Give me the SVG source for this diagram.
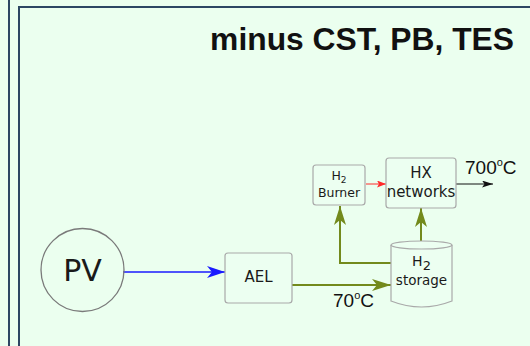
<svg xmlns="http://www.w3.org/2000/svg" width="530" height="346" viewBox="0 0 530 346">
<style>
.frame{fill:none;stroke:#2d4763;stroke-width:2}
.box{fill:#ecfff1;stroke:#a9a9a9;stroke-width:1.2}
.lbl{font-family:"DejaVu Sans",sans-serif;fill:#1a1a1a;text-anchor:middle}
.tmp{font-family:"Liberation Sans",Arial,sans-serif;fill:#111}
.olive{fill:none;stroke:#738a1c;stroke-width:2}
</style>
<defs>
<marker id="mOlive" markerUnits="userSpaceOnUse" markerWidth="20" markerHeight="13" refX="19" refY="6" orient="auto"><path d="M0,0 L19,6 L0,12 L5,6 Z" fill="#738a1c"/></marker>
<marker id="mBlue" markerUnits="userSpaceOnUse" markerWidth="19" markerHeight="13" refX="18" refY="6" orient="auto"><path d="M0,0 L18,6 L0,12 L5,6 Z" fill="#1a1aff"/></marker>
<marker id="mRed" markerUnits="userSpaceOnUse" markerWidth="10" markerHeight="8" refX="9" refY="3.5" orient="auto"><path d="M0,0 L9,3.5 L0,7 L2,3.5 Z" fill="#ff2a2a"/></marker>
<marker id="mBlack" markerUnits="userSpaceOnUse" markerWidth="12" markerHeight="8" refX="11" refY="3.5" orient="auto"><path d="M0,0 L11,3.5 L0,7 L2.5,3.5 Z" fill="#111"/></marker>
</defs>
<rect x="0" y="0" width="530" height="346" fill="#ebffef"/>
<line class="frame" x1="9" y1="0" x2="9" y2="346"/>
<path class="frame" d="M19,346 L19,7 L531,7"/>
<text class="tmp" x="514" y="50" font-size="31.8" font-weight="bold" text-anchor="end" fill="#000">minus CST, PB, TES</text>
<g id="connectors">
<path d="M123,272 L225,272" stroke="#1a1aff" stroke-width="1.6" fill="none" marker-end="url(#mBlue)"/>
<path class="olive" d="M292,285 L391,285" marker-end="url(#mOlive)"/>
<path class="olive" d="M391,263 L340,263 L340,206" marker-end="url(#mOlive)"/>
<path class="olive" d="M421,241 L421,208" marker-end="url(#mOlive)"/>
<path d="M366,184 L386,184" stroke="#ff2a2a" stroke-width="1" fill="none" marker-end="url(#mRed)"/>
<path d="M456,184 L493,184" stroke="#111" stroke-width="1" fill="none" marker-end="url(#mBlack)"/>
<text class="tmp" x="333" y="307" font-size="19">70<tspan font-size="11" dy="-8">o</tspan><tspan dy="8">C</tspan></text>
<text class="tmp" x="465" y="174" font-size="19">700<tspan font-size="11" dy="-8">o</tspan><tspan dy="8">C</tspan></text>
</g>
<g id="PV">
<circle cx="82.5" cy="270" r="41.5" fill="none" stroke="#7a7a7a" stroke-width="1.3"/>
<text class="lbl" x="82.5" y="281" font-size="30" fill="#000">PV</text>
</g>
<g id="AEL">
<rect class="box" x="225" y="253" width="67" height="50" rx="3"/>
<text class="lbl" x="258.5" y="282" font-size="15">AEL</text>
</g>
<g id="H2Burner">
<rect class="box" x="313" y="165" width="52" height="40" rx="3"/>
<text class="lbl" x="339" y="180" font-size="12.5">H<tspan font-size="9" dy="3">2</tspan></text>
<text class="lbl" x="339" y="197" font-size="12.5">Burner</text>
</g>
<g id="HXnetworks">
<rect class="box" x="386" y="158" width="70" height="50" rx="3"/>
<text class="lbl" x="421" y="178" font-size="15">HX</text>
<text class="lbl" x="421" y="197" font-size="15">networks</text>
</g>
<g id="H2storage">
<path class="box" d="M391,245 A30.5,4 0 0 1 452,245 L452,301 Q421.5,313 391,301 Z"/>
<path d="M391,245 A30.5,4 0 0 0 452,245" fill="none" stroke="#a9a9a9" stroke-width="1.2"/>
<text class="lbl" x="421.5" y="266" font-size="14">H<tspan font-size="13" dy="4">2</tspan></text>
<text class="lbl" x="421.5" y="285" font-size="13.5">storage</text>
</g>
</svg>
